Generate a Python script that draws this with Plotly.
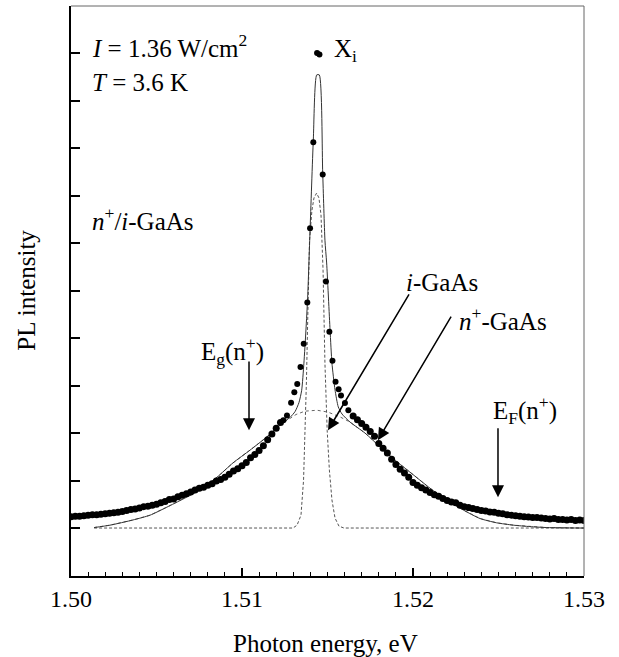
import plotly.graph_objects as go

# ---------------- data ----------------
# measured PL spectrum (dots): photon energy (eV) and intensity (arb. units)
data_x_left = [1.50000, 1.50025, 1.50050, 1.50075, 1.50100, 1.50125, 1.50150, 1.50175,
               1.50200, 1.50225, 1.50250, 1.50275, 1.50300, 1.50325, 1.50350, 1.50375,
               1.50400, 1.50425, 1.50450, 1.50475, 1.50500, 1.50525, 1.50550, 1.50575,
               1.50600, 1.50625, 1.50650, 1.50675, 1.50700, 1.50725, 1.50750, 1.50775,
               1.50800, 1.50825, 1.50850, 1.50875, 1.50900, 1.50925, 1.50950, 1.50975,
               1.51000, 1.51025, 1.51050, 1.51075, 1.51100, 1.51125, 1.51150, 1.51175,
               1.51200, 1.51225]
data_y_left = [0.24, 0.25, 0.25, 0.26, 0.27, 0.28, 0.28, 0.29,
               0.30, 0.31, 0.32, 0.33, 0.35, 0.37, 0.39, 0.40,
               0.42, 0.45, 0.46, 0.48, 0.50, 0.53, 0.56, 0.60,
               0.61, 0.66, 0.69, 0.72, 0.76, 0.80, 0.84, 0.86,
               0.90, 0.93, 0.99, 1.02, 1.07, 1.13, 1.20, 1.25,
               1.31, 1.38, 1.48, 1.55, 1.63, 1.73, 1.86, 1.98,
               2.10, 2.22]
data_x_peak = [1.51242, 1.51263, 1.51287, 1.51306, 1.51323, 1.51342, 1.51361, 1.51382,
               1.51398, 1.51417, 1.51439, 1.51453, 1.51472, 1.51491, 1.51511, 1.51529,
               1.51547, 1.51565, 1.51579, 1.51602, 1.51622]
data_y_peak = [2.27, 2.37, 2.64, 2.86, 3.03, 3.39, 3.88, 4.75,
               6.31, 8.12, 10.00, 9.97, 7.44, 5.19, 4.13, 3.52,
               3.08, 2.92, 2.79, 2.63, 2.48]
data_x_right = [1.51650, 1.51675, 1.51700, 1.51725, 1.51750, 1.51775, 1.51800, 1.51825,
                1.51850, 1.51875, 1.51900, 1.51925, 1.51950, 1.51975, 1.52000, 1.52025,
                1.52050, 1.52075, 1.52100, 1.52125, 1.52150, 1.52175, 1.52200, 1.52225,
                1.52250, 1.52275, 1.52300, 1.52325, 1.52350, 1.52375, 1.52400, 1.52425,
                1.52450, 1.52475, 1.52500, 1.52525, 1.52550, 1.52575, 1.52600, 1.52625,
                1.52650, 1.52675, 1.52700, 1.52725, 1.52750, 1.52775, 1.52800, 1.52825,
                1.52850, 1.52875, 1.52900, 1.52925, 1.52950, 1.52975, 1.53000]
data_y_right = [2.36, 2.28, 2.20, 2.12, 2.03, 1.93, 1.78, 1.68,
                1.58, 1.45, 1.34, 1.24, 1.16, 1.07, 0.96, 0.90,
                0.85, 0.80, 0.75, 0.70, 0.67, 0.62, 0.58, 0.55,
                0.53, 0.48, 0.45, 0.43, 0.41, 0.39, 0.37, 0.36,
                0.34, 0.33, 0.31, 0.30, 0.28, 0.27, 0.26, 0.25,
                0.24, 0.23, 0.22, 0.22, 0.21, 0.20, 0.19, 0.20,
                0.18, 0.18, 0.17, 0.18, 0.16, 0.17, 0.16]

# total fit (solid line)
fit_x = [1.50135, 1.50228, 1.50363, 1.50462, 1.50561, 1.50655, 1.50754, 1.50854,
         1.50947, 1.51047, 1.51146, 1.51222, 1.51281, 1.51310, 1.51333, 1.51349,
         1.51362, 1.51374, 1.51384, 1.51398, 1.51417, 1.51437, 1.51452, 1.51472,
         1.51485, 1.51495, 1.51515, 1.51526, 1.51544, 1.51563, 1.51585, 1.51632,
         1.51719, 1.51807, 1.51905, 1.52002, 1.52099, 1.52197, 1.52294, 1.52392,
         1.52489, 1.52587, 1.52684, 1.52782, 1.52977, 1.53000]
fit_y = [0.01, 0.06, 0.17, 0.27, 0.44, 0.61, 0.80, 1.07,
         1.37, 1.64, 1.92, 2.17, 2.33, 2.45, 2.64, 2.90,
         3.47, 4.17, 4.86, 6.27, 8.17, 9.54, 9.54, 7.47,
         6.06, 5.58, 4.17, 3.47, 2.91, 2.55, 2.40, 2.23,
         2.00, 1.71, 1.40, 1.12, 0.84, 0.59, 0.38, 0.20,
         0.11, 0.06, 0.03, 0.01, 0.00, 0.00]

# n+-GaAs broad component (dotted line)
broad_x = [1.50135, 1.50228, 1.50363, 1.50462, 1.50561, 1.50655, 1.50754, 1.50854,
           1.50947, 1.51047, 1.51146, 1.51222, 1.51281, 1.51316, 1.51368, 1.51439,
           1.51503, 1.51573, 1.51632, 1.51719, 1.51807, 1.51905, 1.52002, 1.52099,
           1.52197, 1.52294, 1.52392, 1.52489, 1.52587, 1.52684, 1.52782, 1.52977, 1.53000]
broad_y = [0.01, 0.06, 0.17, 0.27, 0.44, 0.61, 0.80, 1.07,
           1.37, 1.64, 1.92, 2.17, 2.32, 2.39, 2.46, 2.48,
           2.44, 2.34, 2.23, 2.00, 1.71, 1.40, 1.12, 0.84,
           0.59, 0.38, 0.20, 0.11, 0.06, 0.03, 0.01, 0.00, 0.00]

# i-GaAs narrow component (dashed line)
narrow_x = [1.50135, 1.51298, 1.51322, 1.51345, 1.51360, 1.51368, 1.51377, 1.51383,
            1.51395, 1.51409, 1.51421, 1.51436, 1.51450, 1.51462, 1.51474, 1.51485,
            1.51498, 1.51511, 1.51526, 1.51544, 1.51567, 1.51596, 1.53000]
narrow_y = [0.00, 0.00, 0.06, 0.27, 1.01, 1.85, 3.12, 4.17,
            6.06, 6.69, 6.95, 7.05, 6.95, 6.59, 5.43, 3.47,
            2.06, 1.22, 0.59, 0.21, 0.04, 0.00, 0.00]

x_ticks = [1.50, 1.51, 1.52, 1.53]
x_tick_labels = ["1.50", "1.51", "1.52", "1.53"]
y_ticks = [0, 1, 2, 3, 4, 5, 6, 7, 8, 9, 10]

FONT = '"Liberation Serif", "Times New Roman", serif'

fig = go.Figure()
fig.add_trace(go.Scatter(x=broad_x, y=broad_y, mode="lines",
                         line=dict(color="#666666", width=1, dash="dot"),
                         hoverinfo="skip", showlegend=False))
fig.add_trace(go.Scatter(x=narrow_x, y=narrow_y, mode="lines",
                         line=dict(color="#555555", width=1, dash="3px,2px"),
                         hoverinfo="skip", showlegend=False))
fig.add_trace(go.Scatter(x=fit_x, y=fit_y, mode="lines",
                         line=dict(color="#333333", width=1, shape="spline", smoothing=0.6),
                         hoverinfo="skip", showlegend=False))
band_x = data_x_left + data_x_right
band_y = data_y_left + data_y_right
fig.add_trace(go.Scatter(x=band_x, y=band_y, mode="markers",
                         marker=dict(color="black", size=7, line=dict(width=0)),
                         showlegend=False))
fig.add_trace(go.Scatter(x=data_x_peak, y=data_y_peak, mode="markers",
                         marker=dict(color="black", size=6, line=dict(width=0)),
                         showlegend=False))

# ---------- text annotations ----------
txt = dict(showarrow=False, font=dict(family=FONT, size=25, color="black"))
fig.add_annotation(x=1.50111, y=10.15, xanchor="left", yanchor="middle",
                   text="<i>I</i> = 1.36 W/cm<sup>2</sup>", **txt)
fig.add_annotation(x=1.50111, y=9.37, xanchor="left", yanchor="middle",
                   text="<i>T</i> = 3.6 K", **txt)
fig.add_annotation(x=1.50111, y=6.5, xanchor="left", yanchor="middle",
                   text="<i>n</i><sup>+</sup>/<i>i</i>-GaAs", **txt)
fig.add_annotation(x=1.51526, y=10.05, xanchor="left", yanchor="middle",
                   text="X<sub>i</sub>", **txt)
fig.add_annotation(x=1.52170, y=5.16, xanchor="center", yanchor="middle",
                   text="<i>i</i>-GaAs", **txt)
fig.add_annotation(x=1.52526, y=4.40, xanchor="center", yanchor="middle",
                   text="<i>n</i><sup>+</sup>-GaAs", **txt)
fig.add_annotation(x=1.50947, y=3.72, xanchor="center", yanchor="middle",
                   text="E<sub>g</sub>(n<sup>+</sup>)", **txt)
fig.add_annotation(x=1.52655, y=2.48, xanchor="center", yanchor="middle",
                   text="E<sub>F</sub>(n<sup>+</sup>)", **txt)

# ---------- arrows ----------
arr = dict(showarrow=True, arrowhead=2, arrowsize=1.6, arrowwidth=1.5,
           arrowcolor="black", axref="x", ayref="y", text="")
fig.add_annotation(x=1.51041, y=2.06, ax=1.51041, ay=3.54, **arr)
fig.add_annotation(x=1.52497, y=0.65, ax=1.52497, ay=2.13, **arr)
fig.add_annotation(x=1.51503, y=2.06, ax=1.51982, ay=4.95, **arr)
fig.add_annotation(x=1.51795, y=1.85, ax=1.52228, ay=4.48, **arr)

# axis titles
fig.add_annotation(xref="paper", yref="paper", x=0.497, y=-0.118,
                   xanchor="center", yanchor="middle", showarrow=False,
                   text="Photon energy, eV",
                   font=dict(family=FONT, size=25, color="black"))
fig.add_annotation(xref="paper", yref="paper", x=-0.086, y=0.502,
                   xanchor="center", yanchor="middle", showarrow=False,
                   textangle=-90, text="PL intensity",
                   font=dict(family=FONT, size=25, color="black"))

# top / right frame
fig.add_shape(type="line", xref="paper", yref="paper", x0=0, x1=1, y0=1, y1=1,
              line=dict(color="#666666", width=1))
fig.add_shape(type="line", xref="paper", yref="paper", x0=1, x1=1, y0=0, y1=1,
              line=dict(color="#666666", width=1))

fig.update_layout(
    width=619, height=657,
    margin=dict(l=71, r=35, t=6, b=81),
    paper_bgcolor="white", plot_bgcolor="white",
    font=dict(family=FONT, color="black"),
    xaxis=dict(range=[1.5, 1.53], tickvals=x_ticks, ticktext=x_tick_labels,
               ticks="inside", ticklen=8, tickwidth=1.5, tickcolor="black",
               showline=True, linecolor="black", linewidth=2,
               showgrid=False, zeroline=False,
               tickfont=dict(family=FONT, size=24, color="black"),
               ticklabelstandoff=0,
               minor=dict(dtick=0.001, tick0=1.5, ticks="inside", ticklen=4,
                          tickwidth=1, tickcolor="black", showgrid=False)),
    yaxis=dict(range=[-1.01, 10.99], tickvals=y_ticks, showticklabels=False,
               ticks="inside", ticklen=9, tickwidth=1.5, tickcolor="black",
               showline=True, linecolor="black", linewidth=2,
               showgrid=False, zeroline=False),
)

fig.write_html("out.html")
